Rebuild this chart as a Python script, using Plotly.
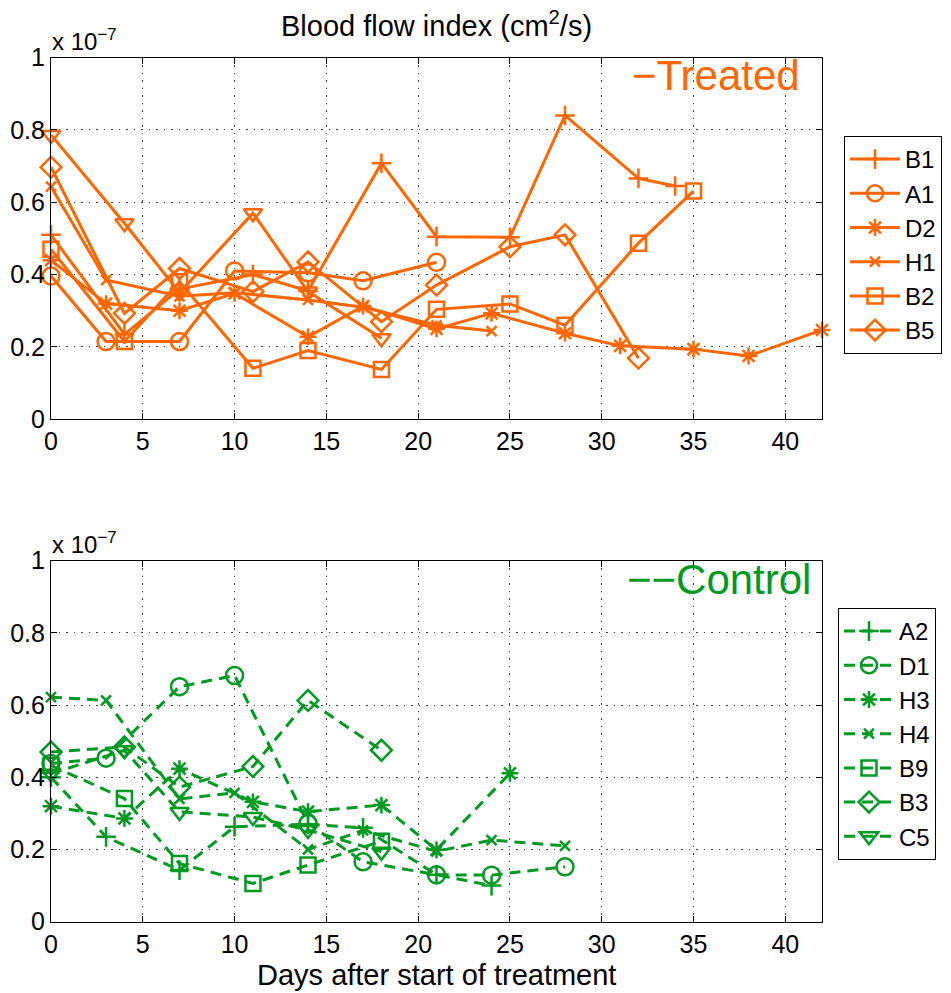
import plotly.graph_objects as go

# Blood flow index values, in units of 1e-7 cm^2/s, versus days after start of treatment

# ---- Treated group ----
days_B1 = [0, 4, 7, 11, 14, 18, 21, 25, 28, 32, 34]
vals_B1 = [0.51, 0.235, 0.36, 0.40, 0.355, 0.708, 0.505, 0.503, 0.84, 0.666, 0.645]

days_A1 = [0, 3, 7, 10, 14, 17, 21]
vals_A1 = [0.396, 0.215, 0.215, 0.41, 0.405, 0.383, 0.434]

days_D2 = [0, 3, 7, 10, 14, 17, 21, 24, 28, 31, 35, 38, 42]
vals_D2 = [0.44, 0.32, 0.30, 0.348, 0.228, 0.313, 0.25, 0.293, 0.238, 0.203, 0.194, 0.175, 0.247]

days_H1 = [0, 3, 7, 10, 14, 17, 21, 24]
vals_H1 = [0.643, 0.385, 0.34, 0.35, 0.33, 0.31, 0.26, 0.244]

days_B2 = [0, 4, 7, 11, 14, 18, 21, 25, 28, 32, 35]
vals_B2 = [0.47, 0.215, 0.38, 0.141, 0.19, 0.138, 0.304, 0.319, 0.26, 0.487, 0.631]

days_B5 = [0, 4, 7, 11, 14, 18, 21, 25, 28, 32]
vals_B5 = [0.697, 0.293, 0.417, 0.353, 0.435, 0.27, 0.371, 0.477, 0.51, 0.169]

days_T7 = [0, 4, 7, 11, 14, 18]
vals_T7 = [0.786, 0.542, 0.35, 0.57, 0.353, 0.224]

# ---- Control group ----
days_A2 = [0, 3, 7, 10, 14, 17, 21, 24]
vals_A2 = [0.40, 0.235, 0.143, 0.263, 0.27, 0.26, 0.13, 0.10]

days_D1 = [0, 3, 7, 10, 14, 17, 21, 24, 28]
vals_D1 = [0.438, 0.453, 0.651, 0.682, 0.272, 0.166, 0.13, 0.129, 0.152]

days_H3 = [0, 4, 7, 11, 14, 18, 21, 25]
vals_H3 = [0.32, 0.286, 0.424, 0.332, 0.305, 0.323, 0.199, 0.411]

days_H4 = [0, 3, 7, 10, 14, 17, 21, 24, 28]
vals_H4 = [0.622, 0.613, 0.34, 0.357, 0.2, 0.253, 0.195, 0.226, 0.21]

days_B9 = [0, 4, 7, 11, 14, 18]
vals_B9 = [0.433, 0.341, 0.161, 0.106, 0.157, 0.223]

days_B3 = [0, 4, 7, 11, 14, 18]
vals_B3 = [0.47, 0.484, 0.373, 0.43, 0.613, 0.475]

days_C5 = [0, 4, 7, 11, 14, 18]
vals_C5 = [0.41, 0.475, 0.304, 0.29, 0.254, 0.194]

x_ticks = [0, 5, 10, 15, 20, 25, 30, 35, 40]
y_ticks = [0, 0.2, 0.4, 0.6, 0.8, 1]

ORANGE = "rgb(255,102,0)"
GREEN = "rgb(0,153,34)"
FONT = "Liberation Sans, Arial, sans-serif"

W, H = 951, 993
X0, X1 = 51, 822          # plot area left/right, px
TOP = (57.6, 419.3)       # top panel y extent, px
BOT = (560.7, 921.7)      # bottom panel y extent, px


def px_x(p):
    return p / W


def px_y(p):
    return 1 - p / H


SYMBOL_SIZE = {
    "cross-thin-open": 14,
    "circle-open": 17,
    "asterisk-open": 14,
    "x-thin-open": 10,
    "square-open": 15,
    "diamond-open": 16,
    "triangle-down-open": 16,
}

fig = go.Figure()


def add_series(days, vals, name, symbol, color, yaxis, legend, dash, show=True):
    fig.add_trace(go.Scatter(
        x=days, y=vals, name=name, mode="lines+markers",
        xaxis="x" if yaxis == "y" else "x2", yaxis=yaxis,
        legend=legend, showlegend=show, cliponaxis=False,
        line=dict(color=color, width=3, dash=dash),
        marker=dict(symbol=symbol, size=SYMBOL_SIZE[symbol], color=color,
                    line=dict(color=color, width=2.5)),
    ))


treated = [
    (days_B1, vals_B1, "B1", "cross-thin-open", True),
    (days_A1, vals_A1, "A1", "circle-open", True),
    (days_D2, vals_D2, "D2", "asterisk-open", True),
    (days_H1, vals_H1, "H1", "x-thin-open", True),
    (days_B2, vals_B2, "B2", "square-open", True),
    (days_B5, vals_B5, "B5", "diamond-open", True),
    (days_T7, vals_T7, "", "triangle-down-open", False),
]
for d, v, n, s, show in treated:
    add_series(d, v, n, s, ORANGE, "y", "legend", "solid", show)

control = [
    (days_A2, vals_A2, "A2", "cross-thin-open"),
    (days_D1, vals_D1, "D1", "circle-open"),
    (days_H3, vals_H3, "H3", "asterisk-open"),
    (days_H4, vals_H4, "H4", "x-thin-open"),
    (days_B9, vals_B9, "B9", "square-open"),
    (days_B3, vals_B3, "B3", "diamond-open"),
    (days_C5, vals_C5, "C5", "triangle-down-open"),
]
for d, v, n, s in control:
    add_series(d, v, n, s, GREEN, "y2", "legend2", "11px,7px")

axis_common = dict(
    showline=True, linecolor="black", linewidth=1.2, mirror="ticks",
    ticks="inside", ticklen=6, tickcolor="black", tickwidth=1,
    showgrid=True, gridcolor="rgba(40,40,40,0.9)", gridwidth=1, griddash="1.5px,6px",
    zeroline=False, automargin=False,
    tickfont=dict(family=FONT, size=25, color="black"),
)

xdom = [px_x(X0), px_x(X1)]
legend_common = dict(xanchor="left", yanchor="top",
                     bgcolor="white", bordercolor="black", borderwidth=1,
                     font=dict(family=FONT, size=24, color="black"),
                     itemwidth=50, tracegroupgap=0)
fig.update_layout(
    width=W, height=H, margin=dict(l=0, r=0, t=0, b=0, pad=0, autoexpand=False),
    paper_bgcolor="white", plot_bgcolor="white",
    font=dict(family=FONT, color="black"),
    xaxis=dict(domain=xdom, range=[0, 42], tickvals=x_ticks, anchor="y", **axis_common),
    yaxis=dict(domain=[px_y(TOP[1]), px_y(TOP[0])], range=[0, 1], tickvals=y_ticks,
               anchor="x", **axis_common),
    xaxis2=dict(domain=xdom, range=[0, 42], tickvals=x_ticks, anchor="y2", **axis_common),
    yaxis2=dict(domain=[px_y(BOT[1]), px_y(BOT[0])], range=[0, 1], tickvals=y_ticks,
                anchor="x2", **axis_common),
    legend=dict(x=px_x(844), y=px_y(136), **legend_common),
    legend2=dict(x=px_x(838), y=px_y(608), **legend_common),
)

annotations = [
    ("Blood flow index (cm<sup>2</sup>/s)", 436, 24, "center", 29, "black"),
    ("x 10<sup>−7</sup>", 50, 40, "left", 24, "black"),
    ("x 10<sup>−7</sup>", 50, 543, "left", 24, "black"),
    ("−Treated", 802, 76, "right", 42, ORANGE),
    ("−−Control", 813, 579, "right", 42, GREEN),
    ("Days after start of treatment", 436, 975, "center", 29, "black"),
]
for text, ax, ay, anchor, size, color in annotations:
    fig.add_annotation(text=text, xref="paper", yref="paper",
                       x=px_x(ax), y=px_y(ay), xanchor=anchor, yanchor="middle",
                       showarrow=False,
                       font=dict(family=FONT, size=size, color=color))

fig.write_html("out.html")
